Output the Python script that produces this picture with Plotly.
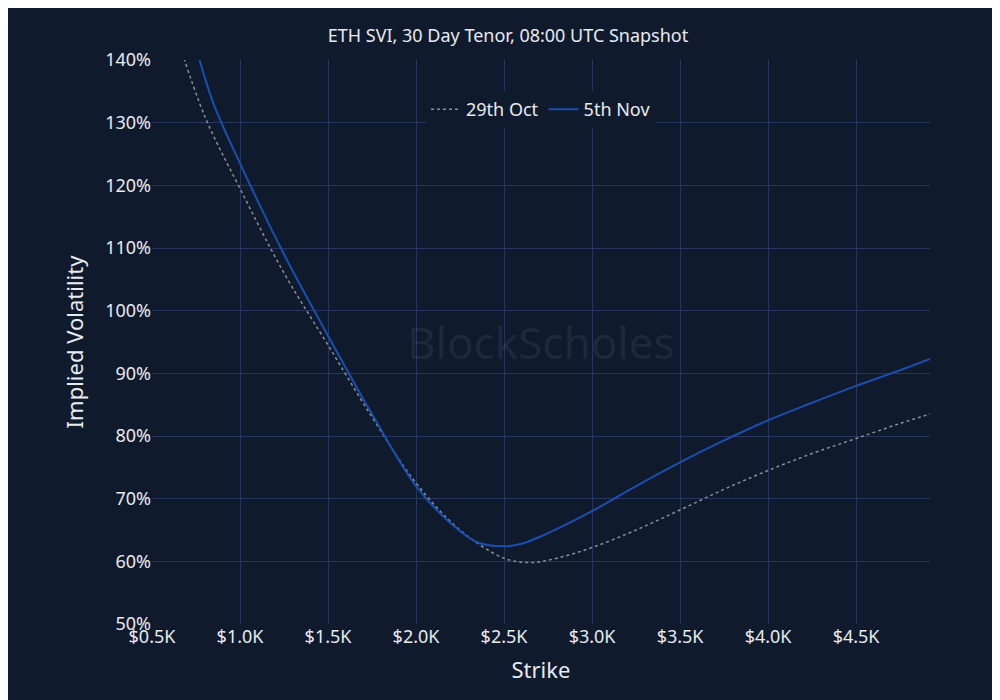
import plotly.graph_objects as go

strike_oct = [650, 800, 1000, 1250, 1500, 1750, 2000, 2250, 2500, 2650, 2800, 3000, 3250, 3500, 3750, 4000, 4250, 4500, 4750, 4920]
iv_oct = [143, 131, 119.5, 106, 94.5, 83, 72.5, 65, 60.5, 59.8, 60.5, 62.2, 65, 68.2, 71.5, 74.5, 77.2, 79.6, 82, 83.5]
strike_nov = [760, 850, 1000, 1250, 1500, 1750, 2000, 2200, 2350, 2500, 2600, 2750, 3000, 3250, 3500, 3750, 4000, 4250, 4500, 4750, 4920]
iv_nov = [141, 133, 123.5, 109, 96, 83.5, 72, 66, 63, 62.4, 62.8, 64.5, 68, 72, 75.8, 79.3, 82.5, 85.3, 88, 90.5, 92.3]

fig = go.Figure()
fig.add_trace(go.Scatter(x=strike_oct, y=iv_oct, name="29th Oct", mode="lines",
                         line=dict(color="#8a8f99", width=1.5, dash="dot", shape="spline")))
fig.add_trace(go.Scatter(x=strike_nov, y=iv_nov, name="5th Nov", mode="lines",
                         line=dict(color="#1a4fb0", width=2, shape="spline")))
bg = "#101a2d"
grid = "#28355f"
fig.update_layout(
    width=1000, height=700, paper_bgcolor=bg, plot_bgcolor=bg,
    font=dict(family="Noto Sans", color="#e8eaf0", size=18),
    title=dict(text="ETH SVI, 30 Day Tenor, 08:00 UTC Snapshot", x=0.5, y=0.97, font=dict(size=18)),
    margin=dict(l=144, r=78, t=52, b=84),
    legend=dict(orientation="h", x=0.5, xanchor="center", y=0.945, bgcolor=bg, font=dict(size=18)),
    xaxis=dict(title=dict(text="Strike", font=dict(size=22)), range=[500, 4920], tickvals=[500,1000,1500,2000,2500,3000,3500,4000,4500],
               ticktext=["$0.5K","$1.0K","$1.5K","$2.0K","$2.5K","$3.0K","$3.5K","$4.0K","$4.5K"],
               gridcolor=grid, zeroline=False, showline=False, tickfont=dict(size=18)),
    yaxis=dict(title=dict(text="Implied Volatility", font=dict(size=22)), range=[50, 140], dtick=10, ticksuffix="%",
               gridcolor=grid, zeroline=False, tickfont=dict(size=18)),
    showlegend=True,
)
fig.add_annotation(text="BlockScholes", x=0.5, y=0.5, xref="paper", yref="paper", showarrow=False,
                   font=dict(size=44, color="rgba(255,255,255,0.07)"))
fig.write_html("out.html")
